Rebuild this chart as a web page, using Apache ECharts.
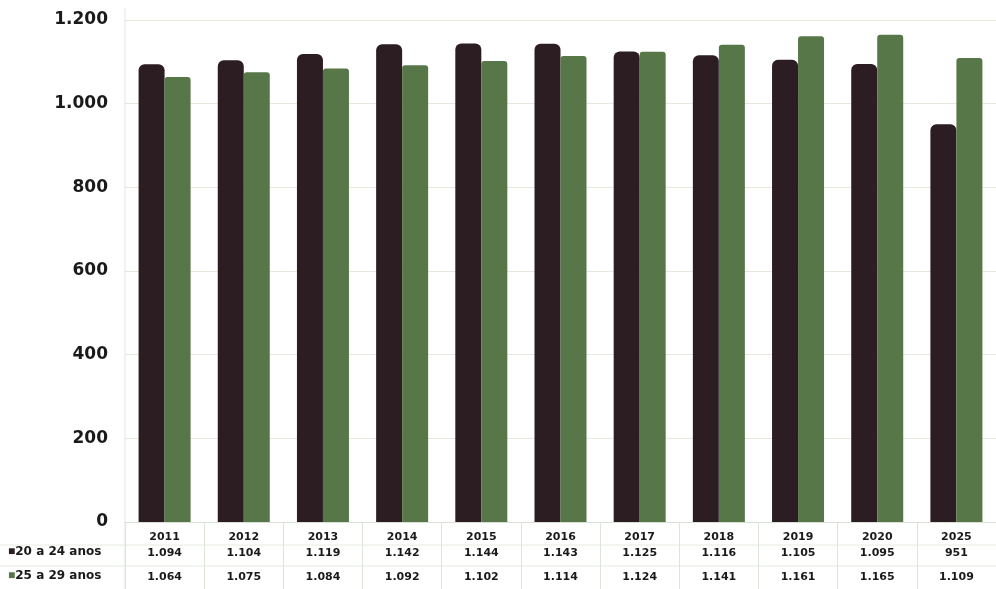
<!DOCTYPE html>
<html><head><meta charset="utf-8">
<script src="https://cdn.jsdelivr.net/npm/echarts@6/dist/echarts.min.js"></script>
<style>html,body{margin:0;padding:0;background:#fff}#c{width:996px;height:589px}</style>
</head><body><div id="c"></div>
<script>
const categories = ['2011','2012','2013','2014','2015','2016','2017','2018','2019','2020','2025'];
const serie20a24 = [1094,1104,1119,1142,1144,1143,1125,1116,1105,1095,951];
const serie25a29 = [1064,1075,1084,1092,1102,1114,1124,1141,1161,1165,1109];
const seriesNames = ['20 a 24 anos','25 a 29 anos'];
const yTicks = [0,200,400,600,800,1000,1200];

const fmt = v => String(v).replace(/\B(?=(\d{3})+(?!\d))/g, '.');
const DARK = '#2b1d22', GREEN = '#587749';
const chart = echarts.init(document.getElementById('c'));
chart.setOption({
  backgroundColor: '#ffffff',
  animation: false,
  textStyle: {fontFamily: 'DejaVu Sans'},
  grid: {left: 125, right: 0, top: 20, bottom: 67},
  xAxis: {
    type: 'category', data: categories,
    axisLine: {show: true, lineStyle: {color: '#d8dfd4'}},
    axisTick: {show: true, length: 68, lineStyle: {color: '#dde4da'}},
    axisLabel: {
      margin: 7, interval: 0,
      formatter: (v, i) => `{y|${v}}\n{a|${fmt(serie20a24[i])}}\n{b|${fmt(serie25a29[i])}}`,
      rich: {
        y: {fontSize: 11, fontWeight: 'bold', color: '#1a1a1a', lineHeight: 16, fontFamily: 'DejaVu Sans'},
        a: {fontSize: 11, fontWeight: 'bold', color: '#1a1a1a', lineHeight: 16, fontFamily: 'DejaVu Sans'},
        b: {fontSize: 11, fontWeight: 'bold', color: '#1a1a1a', lineHeight: 32, fontFamily: 'DejaVu Sans'}
      }
    }
  },
  yAxis: {
    type: 'value', min: yTicks[0], max: yTicks[yTicks.length-1], interval: 200,
    axisLine: {show: false}, axisTick: {show: false},
    axisLabel: {margin: 17, fontSize: 17, fontWeight: 'bold', color: '#1a1a1a', fontFamily: 'DejaVu Sans', formatter: v => fmt(v)},
    splitLine: {lineStyle: {color: '#e2e9dd'}}
  },
  series: [
    {name: seriesNames[0], type: 'bar', data: serie20a24, barWidth: 26, barGap: '0%',
     itemStyle: {color: DARK, borderRadius: [6,6,0,0]}},
    {name: seriesNames[1], type: 'bar', data: serie25a29, barWidth: 26,
     itemStyle: {color: GREEN, borderRadius: [3,3,0,0]}}
  ],
  graphic: [
    {type: 'line', shape: {x1: 0, y1: 545, x2: 996, y2: 545}, style: {stroke: '#e4eae0', lineWidth: 1}, silent: true},
    {type: 'line', shape: {x1: 0, y1: 566, x2: 996, y2: 566}, style: {stroke: '#e4eae0', lineWidth: 1}, silent: true},
    {type: 'line', shape: {x1: 125, y1: 8, x2: 125, y2: 589}, style: {stroke: '#dfe6dc', lineWidth: 1}, silent: true},
    {type: 'text', left: 8, top: 546, style: {text: '{s|■}' + seriesNames[0], rich: {s: {fill: DARK, fontSize: 12}}, font: 'bold 12px "DejaVu Sans"', fill: '#1a1a1a'}},
    {type: 'text', left: 8, top: 570, style: {text: '{s|■}' + seriesNames[1], rich: {s: {fill: GREEN, fontSize: 12}}, font: 'bold 12px "DejaVu Sans"', fill: '#1a1a1a'}}
  ]
});
</script></body></html>
